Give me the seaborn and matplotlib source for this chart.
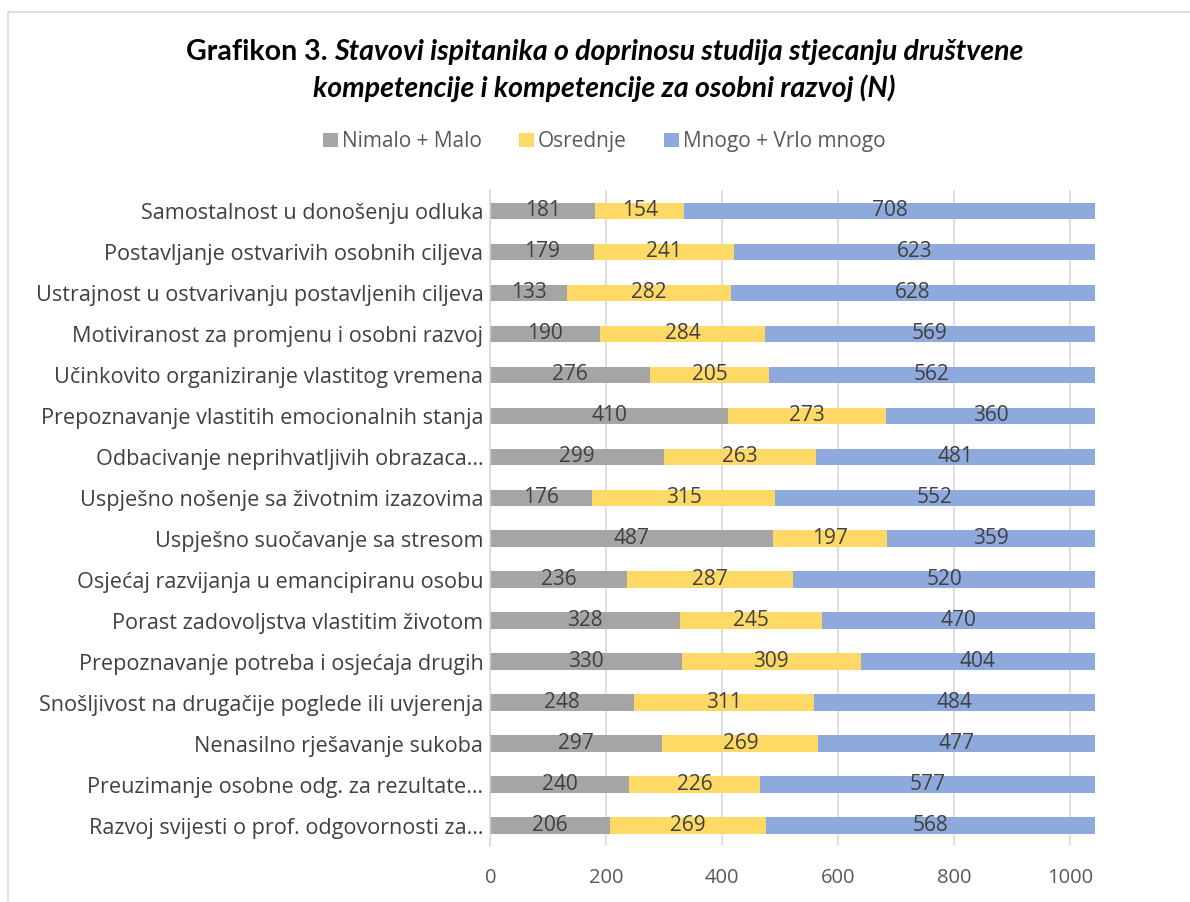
import pandas as pd
import seaborn as sns
import matplotlib.pyplot as plt
from matplotlib.patches import Rectangle, Patch

# Data
categories = [
    'Samostalnost u donošenju odluka',
    'Postavljanje ostvarivih osobnih ciljeva',
    'Ustrajnost u ostvarivanju postavljenih ciljeva',
    'Motiviranost za promjenu i osobni razvoj',
    'Učinkovito organiziranje vlastitog vremena',
    'Prepoznavanje vlastitih emocionalnih stanja',
    'Odbacivanje neprihvatljivih obrazaca…',
    'Uspješno nošenje sa životnim izazovima',
    'Uspješno suočavanje sa stresom',
    'Osjećaj razvijanja u emancipiranu osobu',
    'Porast zadovoljstva vlastitim životom',
    'Prepoznavanje potreba i osjećaja drugih',
    'Snošljivost na drugačije poglede ili uvjerenja',
    'Nenasilno rješavanje sukoba',
    'Preuzimanje osobne odg. za rezultate…',
    'Razvoj svijesti o prof. odgovornosti za…',
]
malo = [181, 179, 133, 190, 276, 410, 299, 176, 487, 236, 328, 330, 248, 297, 240, 206]
osrednje = [154, 241, 282, 284, 205, 273, 263, 315, 197, 287, 245, 309, 311, 269, 226, 269]
mnogo = [708, 623, 628, 569, 562, 360, 481, 552, 359, 520, 470, 404, 484, 477, 577, 568]
series = ['Nimalo + Malo', 'Osrednje', 'Mnogo + Vrlo mnogo']
colors = ['#A5A5A5', '#FFD966', '#8EA9DB']

df = pd.DataFrame({'cat': categories, 'malo': malo, 'osrednje': osrednje, 'mnogo': mnogo})
df['c1'] = df['malo']
df['c2'] = df['malo'] + df['osrednje']
df['c3'] = df['c2'] + df['mnogo']

sns.set_theme(style='white')
plt.rcParams['font.family'] = ['Open Sans', 'DejaVu Sans']

fig = plt.figure(figsize=(11.9, 9.02), dpi=100)
ax = fig.add_axes([0.412, 0.062, 0.508, 0.727])

# stacked bars: draw cumulative totals from the back
for col, c in zip(['c3', 'c2', 'c1'], colors[::-1]):
    sns.barplot(data=df, x=col, y='cat', color=c, width=0.4, ax=ax,
                saturation=1, edgecolor='none', zorder=2)

# segment labels
for i, row in df.iterrows():
    left = 0
    for v in [row['malo'], row['osrednje'], row['mnogo']]:
        ax.text(left + v / 2, i, str(v), ha='center', va='center',
                fontsize=15, color='#404040', zorder=3)
        left += v

ax.set_xlim(0, 1043)
ax.set_ylim(15.5, -0.5)
ax.set_xticks([0, 200, 400, 600, 800, 1000])
ax.xaxis.grid(True, color='#D9D9D9', linewidth=1.2, zorder=0)
ax.set_axisbelow(True)
for s in ['top', 'right', 'bottom']:
    ax.spines[s].set_visible(False)
ax.spines['left'].set_color('#D9D9D9')
ax.spines['left'].set_linewidth(1.2)
ax.set_xlabel('')
ax.set_ylabel('')
ax.tick_params(axis='x', labelsize=14.5, labelcolor='#595959', pad=16, length=0)
ax.tick_params(axis='y', labelsize=15.6, labelcolor='#404040', pad=5, length=0)

# title (bold prefix + bold italic rest, centred together)
tfont = ['Lato', 'DejaVu Sans']
cx = 0.508
t1 = fig.text(0, 0.942, 'Grafikon 3. ', fontsize=20.5, fontweight='bold',
              ha='left', va='center', color='black', family=tfont)
t2 = fig.text(0, 0.942, 'Stavovi ispitanika o doprinosu studija stjecanju društvene',
              fontsize=20.5, fontweight='bold', style='italic', ha='left', va='center',
              color='black', family=tfont)
fig.canvas.draw()
W = fig.bbox.width
w1 = t1.get_window_extent().width / W
w2 = t2.get_window_extent().width / W
x0 = cx - (w1 + w2) / 2
t1.set_x(x0)
t2.set_x(x0 + w1)
fig.text(cx, 0.902, 'kompetencije i kompetencije za osobni razvoj (N)',
         fontsize=20.5, fontweight='bold', style='italic', ha='center', va='center',
         color='black', family=tfont)

# legend
handles = [Patch(facecolor=c, edgecolor='none') for c in colors]
fig.legend(handles, series, loc='center', bbox_to_anchor=(0.508, 0.843), ncol=3,
           frameon=False, fontsize=15, labelcolor='#595959', handlelength=0.7,
           handleheight=0.7, handletextpad=0.2, columnspacing=1.8)

# chart frame
fig.patches.append(Rectangle((8 / 1190, -0.1), 1.2, 1.1 - 12 / 902, transform=fig.transFigure,
                             fill=False, edgecolor='#D9D9D9', linewidth=1.2))

fig.savefig('out.png', dpi=100)
